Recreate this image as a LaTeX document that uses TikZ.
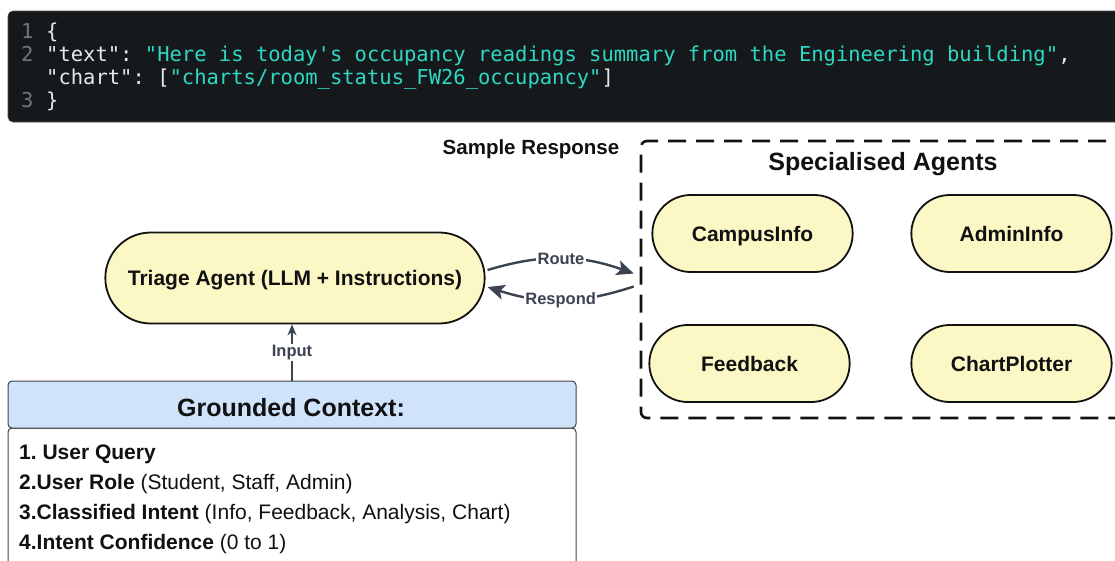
\documentclass[tikz,border=0pt]{standalone}
\usepackage{fontspec}
\setmainfont{Liberation Sans}
\newfontfamily\codefont{DejaVu Sans Mono}[Ligatures=TeXOff]
\usetikzlibrary{shapes.misc,arrows.meta}
\frenchspacing

\definecolor{codebg}{HTML}{16191C}
\definecolor{codestr}{HTML}{2ED8C3}
\definecolor{codenum}{HTML}{6E7681}
\definecolor{codetxt}{HTML}{E8E8E8}
\definecolor{pill}{HTML}{FBF8C6}
\definecolor{ctxblue}{HTML}{CFE3FB}
\definecolor{wiregray}{HTML}{3B4350}
\definecolor{ink}{HTML}{111111}

\tikzset{
  agent/.style={rounded rectangle, draw=ink, line width=1.8pt, fill=pill, text=ink, text depth=0pt,
    minimum width=207pt, minimum height=77pt, font=\fontsize{21}{25}\selectfont\bfseries},
  wire/.style={draw=wiregray, line width=2.4pt, -{Stealth[length=17pt,width=15pt,inset=4pt]}},
  wirelabel/.style={fill=white, text=wiregray, inner sep=1.5pt, font=\fontsize{16.5}{18}\selectfont\bfseries},
  codeline/.style={anchor=base west, inner sep=0pt, text=codetxt, font=\codefont\fontsize{20.5}{23}\selectfont},
  item/.style={anchor=base west, inner sep=0pt, text=ink, font=\fontsize{21}{25}\selectfont},
  heading/.style={text=ink, inner sep=0pt, font=\fontsize{#1}{#1}\selectfont\bfseries},
}

\begin{document}
\begin{tikzpicture}[x=1pt,y=-1pt]
\useasboundingbox (0,0) rectangle (1115,560);

% code block with the sample response
\filldraw[fill=codebg, draw=gray!60!black, line width=0.6pt, rounded corners=5pt] (8,11) rectangle (1140,122);
\path (21,38) node[codeline, text=codenum] (n1) {1}
		(46,38) node[codeline] (c1) {\{}
		(21,61) node[codeline, text=codenum] (n2) {2}
		(46,61) node[codeline] (c2) {"text": \textcolor{codestr}{"Here is today's occupancy readings summary from the Engineering building"},}
		(46,84) node[codeline] (c3) {"chart": [\textcolor{codestr}{"charts/room\_status\_FW26\_occupancy"}]}
		(21,107) node[codeline, text=codenum] (n3) {3}
		(46,107) node[codeline] (c4) {\}}
		;

\path (531,149) node[heading=20.5] (sample) {Sample Response};

% specialised agents
\path (890.5,279.5) node[draw=ink, line width=2.6pt, dash pattern=on 18pt off 10pt, rounded corners=6pt,
		minimum width=499pt, minimum height=277pt] (agents) {}
		(883,164) node[heading=25] (agtitle) {Specialised Agents}
		(752.5,233.5) node[agent] (campus) {CampusInfo}
		(1011.5,233.5) node[agent] (admin) {AdminInfo}
		(749.5,363.5) node[agent] (feedback) {Feedback}
		(1011.5,363.5) node[agent] (chart) {ChartPlotter}
		;

% triage agent
\path (295,278) node[agent, minimum width=386pt, minimum height=91pt] (triage) {Triage Agent (LLM + Instructions)};

% grounded context
\path (292,520) node[draw=ink!80, line width=1pt, fill=white, rounded corners=4pt,
		minimum width=568pt, minimum height=184pt] (ctxbody) {}
		(292,404.5) node[draw=ink!80, line width=1pt, fill=ctxblue, rounded corners=4pt,
		minimum width=568pt, minimum height=47pt] (ctxhead) {}
		(291,408) node[heading=25] (ctxtitle) {Grounded Context:}
		(19,459.5) node[item] (q1) {\textbf{1. User Query}}
		(19,489.5) node[item] (q2) {\textbf{2.User Role} (Student, Staff, Admin)}
		(19,519.5) node[item] (q3) {\textbf{3.Classified Intent} (Info, Feedback, Analysis, Chart)}
		(19,549.5) node[item] (q4) {\textbf{4.Intent Confidence} (0 to 1)}
		;

\draw[wire] ([xshift=2pt,yshift=8pt]triage.east) to[bend left=18] node[wirelabel] {Route} ([xshift=-6pt,yshift=6pt]agents.west);
\draw[wire] ([xshift=-6pt,yshift=-7pt]agents.west) to[bend left=18] node[wirelabel] {Respond} ([xshift=2pt,yshift=-9pt]triage.east);
\draw[wire, line width=1.4pt, -{Stealth[length=11pt,width=9pt]}] (ctxhead.north) -- (ctxhead.north |- triage.south)
		node[midway, wirelabel] {Input};
\end{tikzpicture}
\end{document}
